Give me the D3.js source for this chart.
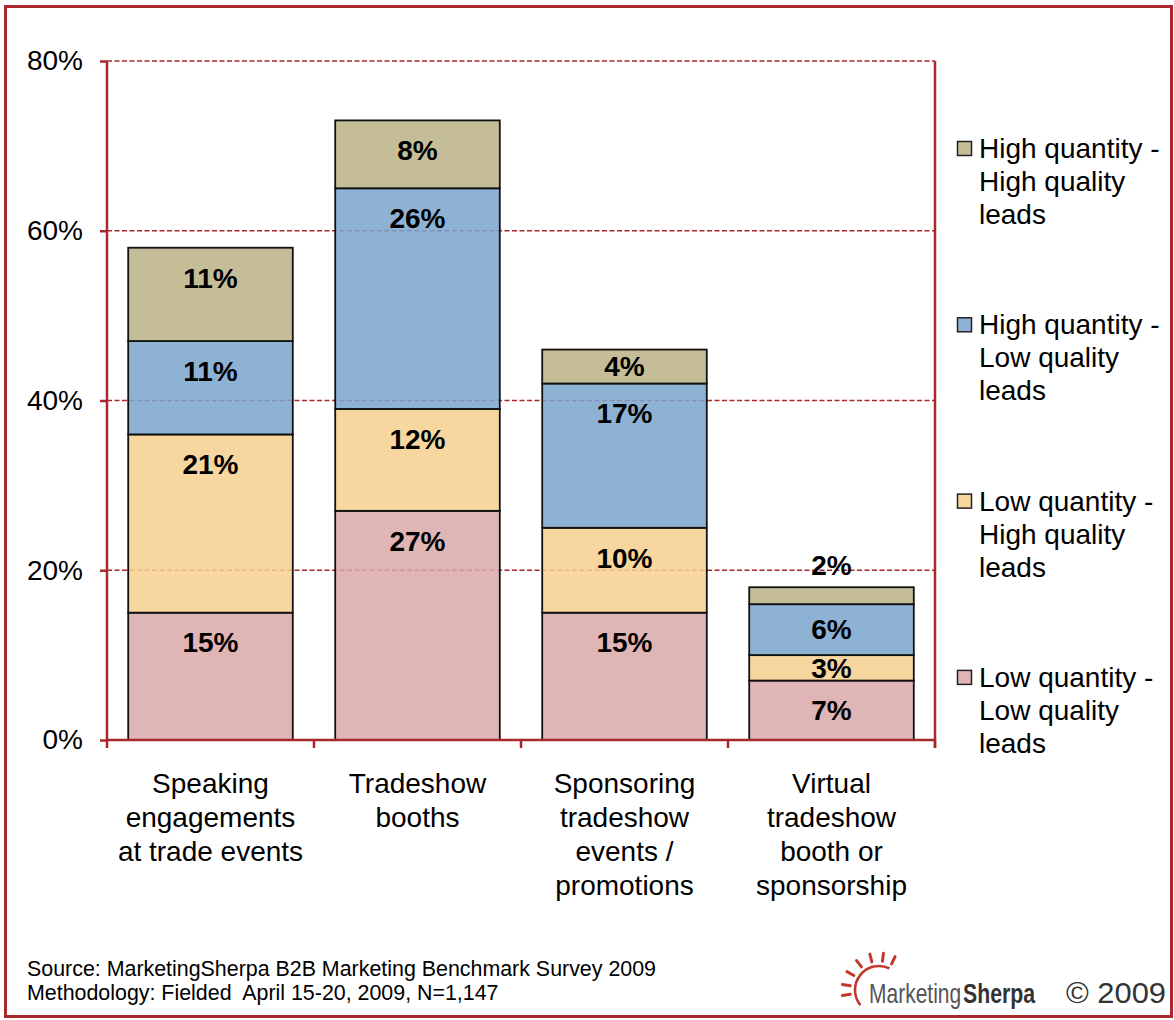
<!DOCTYPE html>
<html>
<head>
<meta charset="utf-8">
<script src="https://cdn.jsdelivr.net/npm/d3@7"></script>
<style>
  html, body { margin: 0; padding: 0; background: #fff; }
  svg { display: block; font-family: Arial, "Liberation Sans", sans-serif; }
  .keep-space { white-space: pre; }
</style>
</head>
<body>
<svg id="chart" width="1174" height="1020"></svg>
<script>
// Lead quality/quantity by trade-event tactic (% of respondents)
const categories = [
  ["Speaking", "engagements", "at trade events"],
  ["Tradeshow", "booths"],
  ["Sponsoring", "tradeshow", "events /", "promotions"],
  ["Virtual", "tradeshow", "booth or", "sponsorship"]
];
const seriesNames = [
  "Low quantity - Low quality leads",
  "Low quantity - High quality leads",
  "High quantity - Low quality leads",
  "High quantity - High quality leads"
];
const legendLines = [
  ["Low quantity -", "Low quality", "leads"],
  ["Low quantity -", "High quality", "leads"],
  ["High quantity -", "Low quality", "leads"],
  ["High quantity -", "High quality", "leads"]
];
const lowQtyLowQual   = [15, 27, 15, 7];
const lowQtyHighQual  = [21, 12, 10, 3];
const highQtyLowQual  = [11, 26, 17, 6];
const highQtyHighQual = [11, 8, 4, 2];
const yTicks = [0, 20, 40, 60, 80];

const seriesValues = [lowQtyLowQual, lowQtyHighQual, highQtyLowQual, highQtyHighQual];
// fills are drawn at 0.85 opacity so the dashed grid shows faintly through
const fills = ["#dba8a9", "#f6d08e", "#7aa4cc", "#bab185"];
const red = "#a8282b";

const svg = d3.select("#chart");

// outer frame
svg.append("rect")
  .attr("x", 5.5).attr("y", 6.5).attr("width", 1166).attr("height", 1010)
  .attr("fill", "none").attr("stroke", red).attr("stroke-width", 3);

const plotLeft = 107, plotRight = 935, plotTop = 61, plotBottom = 740;
const keys = categories.map((c, i) => "c" + i);
const rows = keys.map((k, i) => {
  const r = { key: k };
  seriesNames.forEach((s, j) => r[s] = seriesValues[j][i]);
  return r;
});
const stacked = d3.stack().keys(seriesNames)(rows);

const x = d3.scaleBand().domain(keys).range([plotLeft, plotRight])
  .paddingInner(0.205).paddingOuter(0.1025);
const y = d3.scaleLinear().domain([0, 80]).range([plotBottom, plotTop]);

// dashed horizontal grid
svg.append("g").selectAll("line")
  .data(yTicks.filter(t => t > 0))
  .join("line")
  .attr("x1", plotLeft).attr("x2", plotRight)
  .attr("y1", d => y(d)).attr("y2", d => y(d))
  .attr("stroke", red).attr("stroke-width", 1.6)
  .attr("stroke-dasharray", "5,2.5");

// right edge of plot
svg.append("line")
  .attr("x1", plotRight).attr("x2", plotRight)
  .attr("y1", y(80)).attr("y2", plotBottom + 8)
  .attr("stroke", red).attr("stroke-width", 2.5);

// stacked bars
const layers = svg.append("g").selectAll("g")
  .data(stacked).join("g")
  .attr("fill", (d, i) => fills[i]);
layers.selectAll("rect")
  .data(d => d).join("rect")
  .attr("x", d => x(d.data.key))
  .attr("width", x.bandwidth())
  .attr("y", d => y(d[1]))
  .attr("height", d => y(d[0]) - y(d[1]))
  .attr("fill-opacity", 0.85)
  .attr("stroke", "#111").attr("stroke-width", 1.8);

// segment labels
const labels = svg.append("g")
  .attr("font-weight", "bold").attr("font-size", 28)
  .attr("text-anchor", "middle").attr("fill", "#000");
stacked.forEach(layer => {
  layer.forEach(d => {
    const v = d[1] - d[0];
    const yt = y(d[1]), yb = y(d[0]);
    const h = yb - yt;
    let cy;
    if (h < 20) cy = yt - 22;           // thin slice: label sits above the bar
    else cy = Math.min(yt + 30, (yt + yb) / 2);
    labels.append("text")
      .attr("x", x(d.data.key) + x.bandwidth() / 2)
      .attr("y", cy)
      .attr("dy", "0.35em")
      .text(d3.format(".0f")(v) + "%");
  });
});

// y axis
const yAxis = svg.append("g")
  .attr("transform", `translate(${plotLeft},0)`)
  .call(d3.axisLeft(y).tickValues(yTicks).tickFormat(d => d + "%")
    .tickSize(7).tickPadding(17));
yAxis.select(".domain").attr("stroke", red).attr("stroke-width", 2.5)
  .attr("d", `M0,${plotTop}V${plotBottom}`);
yAxis.selectAll(".tick line").attr("stroke", red).attr("stroke-width", 2.5);
yAxis.selectAll(".tick text").attr("font-size", 28).attr("fill", "#000")
  .attr("font-family", "Arial, 'Liberation Sans', sans-serif");

// x axis with ticks on category boundaries
const xAxis = svg.append("g").attr("transform", `translate(0,${plotBottom})`)
  .call(d3.axisBottom(x).tickSize(0).tickPadding(0).tickFormat(""));
xAxis.select(".domain").attr("stroke", red).attr("stroke-width", 2.5)
  .attr("d", `M${plotLeft},0H${plotRight}`);
const bounds = keys.map(k => x(k) - x.step() * x.paddingInner() / 2).concat([plotRight]);
xAxis.selectAll("line.bound").data(bounds).join("line")
  .attr("class", "bound")
  .attr("x1", d => d).attr("x2", d => d)
  .attr("y1", 0).attr("y2", 8)
  .attr("stroke", red).attr("stroke-width", 2.5);

// category labels
const catG = svg.append("g").attr("font-size", 28).attr("text-anchor", "middle").attr("fill", "#000");
categories.forEach((lines, i) => {
  const t = catG.append("text")
    .attr("x", x(keys[i]) + x.bandwidth() / 2)
    .attr("y", 793);
  lines.forEach((ln, j) => {
    t.append("tspan")
      .attr("x", x(keys[i]) + x.bandwidth() / 2)
      .attr("dy", j === 0 ? 0 : 34)
      .text(ln);
  });
});

// legend (top entry is the top of the stack)
const legend = svg.append("g").attr("font-size", 28).attr("fill", "#000");
const legendOrder = [3, 2, 1, 0];
legendOrder.forEach((si, k) => {
  const by = 158 + k * 176.3;
  legend.append("rect")
    .attr("x", 957.5).attr("y", by - 16.5)
    .attr("width", 14).attr("height", 14)
    .attr("fill", fills[si]).attr("fill-opacity", 0.85)
    .attr("stroke", "#222").attr("stroke-width", 1.5);
  const t = legend.append("text").attr("x", 979).attr("y", by);
  legendLines[si].forEach((ln, j) => {
    t.append("tspan").attr("x", 979).attr("dy", j === 0 ? 0 : 33).text(ln);
  });
});

// source note
const note = svg.append("g").attr("font-size", 21.4).attr("fill", "#000");
note.append("text").attr("x", 27).attr("y", 976)
  .text("Source: MarketingSherpa B2B Marketing Benchmark Survey 2009");
note.append("text").attr("x", 27).attr("y", 1000)
  .attr("class", "keep-space").attr("xml:space", "preserve")
  .text("Methodology: Fielded  April 15-20, 2009, N=1,147");

// MarketingSherpa mark
const logo = svg.append("g");
const sunRed = "#c0392b";
const sunX = 879, sunY = 990, sunR = 24;
const arc = d3.arc().innerRadius(sunR - 1.3).outerRadius(sunR + 1.3)
  .startAngle(-2.25).endAngle(0.45);
logo.append("path").attr("transform", `translate(${sunX},${sunY})`)
  .attr("d", arc()).attr("fill", sunRed);
const rayAngles = [-1.72, -1.42, -1.05, -0.65, -0.25, 0.12, 0.45];
logo.selectAll("line.ray").data(rayAngles).join("line")
  .attr("class", "ray")
  .attr("x1", a => sunX + Math.sin(a) * (sunR + 5))
  .attr("y1", a => sunY - Math.cos(a) * (sunR + 5))
  .attr("x2", a => sunX + Math.sin(a) * (sunR + 13))
  .attr("y2", a => sunY - Math.cos(a) * (sunR + 13))
  .attr("stroke", sunRed).attr("stroke-width", 3).attr("stroke-linecap", "round");
// condensed wordmark: horizontal squeeze via transform
logo.append("text")
  .attr("transform", "translate(869,1003) scale(0.75,1)")
  .attr("font-size", 28).attr("fill", "#555")
  .text("Marketing");
logo.append("text")
  .attr("transform", "translate(963,1003) scale(0.76,1)")
  .attr("font-size", 28).attr("font-weight", "bold").attr("fill", "#333")
  .text("Sherpa");
logo.append("text")
  .attr("transform", "translate(1066,1003) scale(1.03,1)")
  .attr("font-size", 30).attr("fill", "#333")
  .text("© 2009");
</script>
</body>
</html>
